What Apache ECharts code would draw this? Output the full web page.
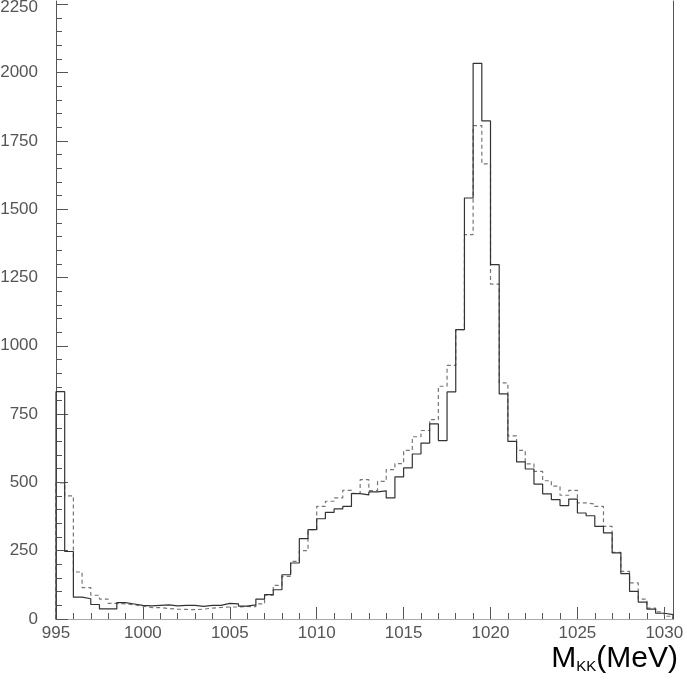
<!DOCTYPE html>
<html>
<head>
<meta charset="utf-8">
<script src="https://cdn.jsdelivr.net/npm/echarts@6/dist/echarts.min.js"></script>
<style>
  html, body { margin: 0; padding: 0; background: #fff; }
  #chart { width: 687px; height: 680px; }
</style>
</head>
<body>
<div id="chart"></div>
<script>
// Histogram: bins of 0.5 MeV starting at 995 MeV
const binStart = 995;
const binWidth = 0.5;

// solid histogram counts (71 bins, 995 -> 1030.5)
const solidCounts = [
  832, 247, 80, 74, 53, 37, 37, 60, 55, 50,
  48, 50, 52, 48, 50, 50, 46, 50, 50, 57,
  55, 47, 52, 73, 89, 107, 162, 205, 294, 327,
  367, 390, 403, 412, 459, 454, 465, 469, 443, 520,
  553, 604, 644, 714, 653, 831, 1059, 1541, 2034, 1823,
  1297, 824, 650, 575, 549, 494, 458, 437, 415, 439,
  388, 378, 339, 315, 242, 166, 101, 62, 36, 21,
  16
];

// dashed histogram counts (71 bins)
const dashedCounts = [
  498, 451, 172, 115, 87, 73, 57, 55, 52, 47,
  42, 42, 38, 36, 35, 34, 36, 40, 42, 44,
  44, 46, 45, 55, 87, 123, 156, 211, 250, 327,
  412, 431, 443, 471, 460, 510, 470, 504, 547, 569,
  617, 667, 690, 730, 852, 928, 1059, 1407, 1806, 1666,
  1226, 864, 670, 617, 568, 540, 506, 486, 453, 471,
  425, 421, 412, 339, 244, 174, 132, 73, 40, 26,
  10
];

// axis tick labels
const xMajorTicks = [995, 1000, 1005, 1010, 1015, 1020, 1025, 1030];
const yMajorTicks = [0, 250, 500, 750, 1000, 1250, 1500, 1750, 2000, 2250];
const xMin = 995, xMax = 1030.5;
const yMin = 0, yMax = 2262;

const xMinorTicks = [];
for (let v = 995; v <= 1030; v += 1) xMinorTicks.push(v);
const yMinorTicks = [];
for (let v = 0; v <= 2250; v += 50) yMinorTicks.push(v);

function histPoints(counts) {
  const pts = [[binStart, 0]];
  counts.forEach((c, i) => pts.push([binStart + i * binWidth, c]));
  pts.push([binStart + counts.length * binWidth, 0]);
  return pts;
}

const plain = v => String(v);
const labelFont = { fontFamily: 'Liberation Sans', fontSize: 17, color: '#555' };
const topTick = yMajorTicks[yMajorTicks.length - 1];

const chart = echarts.init(document.getElementById('chart'), null, { renderer: 'canvas' });
chart.setOption({
  animation: false,
  backgroundColor: '#fff',
  grid: { left: 56, right: 14, top: 1, bottom: 61, containLabel: false, outerBoundsMode: 'none' },
  xAxis: [
    {
      type: 'value', position: 'bottom', min: xMin, max: xMax,
      axisLine: { show: true, lineStyle: { color: '#444', width: 1 } },
      axisTick: { show: true, inside: true, length: 12, customValues: xMajorTicks, lineStyle: { color: '#555' } },
      axisLabel: Object.assign({ show: true, margin: 6, customValues: xMajorTicks, formatter: plain }, labelFont),
      splitLine: { show: false }
    },
    {
      type: 'value', position: 'bottom', min: xMin, max: xMax,
      axisLine: { show: false },
      axisTick: { show: true, inside: true, length: 6, customValues: xMinorTicks, lineStyle: { color: '#555' } },
      axisLabel: { show: false },
      splitLine: { show: false }
    },
    {
      type: 'value', position: 'top', min: xMin, max: xMax,
      axisLine: { show: true, lineStyle: { color: '#aaa', width: 1 } },
      axisTick: { show: false }, axisLabel: { show: false }, splitLine: { show: false }
    }
  ],
  yAxis: [
    {
      type: 'value', position: 'left', min: yMin, max: yMax,
      axisLine: { show: true, lineStyle: { color: '#555', width: 1 } },
      axisTick: { show: true, inside: true, length: 12, customValues: yMajorTicks, lineStyle: { color: '#555' } },
      axisLabel: Object.assign({
        show: true, margin: 18, customValues: yMajorTicks,
        formatter: v => (v === topTick ? '{top|' + v + '}' : String(v)),
        rich: { top: { fontFamily: 'Liberation Sans', fontSize: 17, color: '#555', padding: [7, 0, 0, 0] } }
      }, labelFont),
      splitLine: { show: false }
    },
    {
      type: 'value', position: 'left', min: yMin, max: yMax,
      axisLine: { show: false },
      axisTick: { show: true, inside: true, length: 6, customValues: yMinorTicks, lineStyle: { color: '#555' } },
      axisLabel: { show: false },
      splitLine: { show: false }
    },
    {
      type: 'value', position: 'right', min: yMin, max: yMax,
      axisLine: { show: true, lineStyle: { color: '#555', width: 1 } },
      axisTick: { show: false }, axisLabel: { show: false }, splitLine: { show: false }
    }
  ],
  series: [
    {
      name: 'dashed', type: 'line', step: 'end', showSymbol: false, symbol: 'none',
      data: histPoints(dashedCounts),
      lineStyle: { color: '#777', width: 1.2, type: [4, 3] },
      z: 2
    },
    {
      name: 'solid', type: 'line', step: 'end', showSymbol: false, symbol: 'none',
      data: histPoints(solidCounts),
      lineStyle: { color: '#333', width: 1.2, type: 'solid' },
      z: 3
    }
  ],
  graphic: [
    {
      type: 'text',
      right: 9,
      bottom: 6,
      style: {
        text: '{a|M}{b|KK}{a|(MeV)}',
        rich: {
          a: { fontFamily: 'Liberation Sans', fontSize: 30, color: '#333', lineHeight: 32, verticalAlign: 'bottom' },
          b: { fontFamily: 'Liberation Sans', fontSize: 15, color: '#333', lineHeight: 16, verticalAlign: 'bottom' }
        }
      }
    }
  ]
});
</script>
</body>
</html>
